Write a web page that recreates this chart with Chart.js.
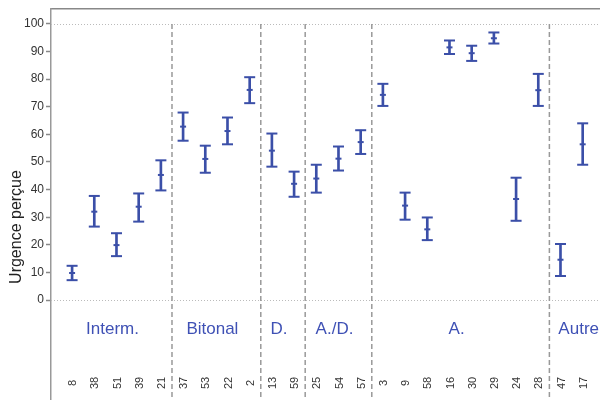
<!DOCTYPE html>
<html>
<head>
<meta charset="utf-8">
<script src="https://cdn.jsdelivr.net/npm/chart.js@4"></script>
<style>
  html, body { margin: 0; padding: 0; background: #fff; }
  #wrap { width: 600px; height: 400px; }
</style>
</head>
<body>
<div id="wrap"><canvas id="urgenceChart" width="600" height="400"></canvas></div>
<script>
// Stimuli (numéros) dans l'ordre de l'axe
const stimuli = ["8", "38", "51", "39", "21", "37", "53", "22", "2", "13", "59",
  "25", "54", "57", "3", "9", "58", "16", "30", "29", "24", "28", "47", "17"];

// Groupes et nombre de stimuli par groupe
const groupes = ["Interm.", "Bitonal", "D.", "A./D.", "A.", "Autre"];
const tailles = [5, 4, 2, 3, 8, 2];

// Moyennes et bornes des intervalles
const moyennes = [9.8, 32.0, 19.9, 33.8, 45.3, 62.8, 51.1, 61.2, 76.1, 54.1, 42.1,
  44.0, 51.2, 57.2, 74.3, 34.2, 25.6, 91.5, 89.4, 94.8, 36.6, 76.0, 14.6, 56.4];
const bornesBas = [7.2, 26.6, 15.9, 28.4, 39.7, 57.7, 46.1, 56.4, 71.3, 48.3, 37.4,
  38.9, 46.9, 52.9, 70.3, 29.1, 21.7, 89.1, 86.6, 92.9, 28.7, 70.3, 8.7, 49.0];
const bornesHaut = [12.4, 37.7, 24.2, 38.6, 50.6, 67.9, 55.9, 66.1, 80.7, 60.3, 46.5,
  49.0, 55.6, 61.5, 78.3, 38.9, 29.9, 94.0, 92.1, 96.9, 44.3, 81.9, 20.3, 64.0];

// Graduations de l'axe Y
const graduations = [0, 10, 20, 30, 40, 50, 60, 70, 80, 90, 100];

const bleu = "#3b4fa8";

// Plugin pour les séparateurs, les libellés et le titre de l'axe
const decor = {
  id: "decor",
  beforeDatasetsDraw(chart) {
    const { ctx, chartArea, scales: { x, y } } = chart;
    ctx.save();
    // lignes pointillées à 0 et 100
    ctx.strokeStyle = "#bbb";
    ctx.lineWidth = 1;
    ctx.setLineDash([1, 2]);
    [0, 100].forEach(v => {
      const py = Math.round(y.getPixelForValue(v)) + 0.5;
      ctx.beginPath();
      ctx.moveTo(chartArea.left, py);
      ctx.lineTo(chartArea.right, py);
      ctx.stroke();
    });
    // séparateurs de groupes
    ctx.strokeStyle = "#999";
    ctx.lineWidth = 1.5;
    ctx.setLineDash([5, 3]);
    let idx = 0;
    tailles.forEach((n, g) => {
      idx += n;
      if (g === tailles.length - 1) return;
      const px = x.getPixelForValue(idx - 0.5);
      ctx.beginPath();
      ctx.moveTo(px, y.getPixelForValue(100));
      ctx.lineTo(px, chartArea.bottom);
      ctx.stroke();
    });
    ctx.setLineDash([]);

    // noms des groupes
    ctx.fillStyle = "#3f51b5";
    ctx.font = "17px 'Liberation Sans', Arial, sans-serif";
    ctx.textAlign = "center";
    ctx.textBaseline = "middle";
    idx = 0;
    tailles.forEach((n, g) => {
      const centre = idx + (g === tailles.length - 1 ? n : n - 1) / 2;
      ctx.fillText(groupes[g], x.getPixelForValue(centre) - 4, 329);
      idx += n;
    });

    // numéros des stimuli (verticaux)
    ctx.fillStyle = "#333";
    ctx.font = "11px 'Liberation Sans', Arial, sans-serif";
    stimuli.forEach((s, i) => {
      ctx.save();
      ctx.translate(x.getPixelForValue(i) + 1, 383);
      ctx.rotate(-Math.PI / 2);
      ctx.fillText(s, 0, 0);
      ctx.restore();
    });

    // titre de l'axe Y
    ctx.fillStyle = "#222";
    ctx.font = "16px 'Liberation Sans', Arial, sans-serif";
    ctx.translate(17, 227);
    ctx.rotate(-Math.PI / 2);
    ctx.fillText("Urgence perçue", 0, 0);
    ctx.restore();
  }
};

const ctx = document.getElementById("urgenceChart").getContext("2d");
new Chart(ctx, {
  type: "scatter",
  data: {
    datasets: [
      {
        type: "bar",
        data: stimuli.map((s, i) => ({ x: i, y: [bornesBas[i], bornesHaut[i]] })),
        backgroundColor: bleu,
        barThickness: 2,
      },
      {
        data: stimuli.map((s, i) => ({ x: i, y: bornesHaut[i] })),
        pointStyle: "line",
        radius: 5.5,
        borderWidth: 2,
        borderColor: bleu,
      },
      {
        data: stimuli.map((s, i) => ({ x: i, y: bornesBas[i] })),
        pointStyle: "line",
        radius: 5.5,
        borderWidth: 2,
        borderColor: bleu,
      },
      {
        data: stimuli.map((s, i) => ({ x: i, y: moyennes[i] })),
        pointStyle: "line",
        radius: 3,
        borderWidth: 2,
        borderColor: bleu,
      },
    ],
  },
  options: {
    responsive: false,
    animation: false,
    events: [],
    layout: {
      autoPadding: false,
      padding: { top: 9, right: 0, bottom: 0, left: 0 },
    },
    plugins: {
      legend: { display: false },
      tooltip: { enabled: false },
    },
    scales: {
      x: {
        type: "linear",
        position: "top",
        offset: false,
        min: -0.95,
        max: 23.78,
        grid: { display: false, offset: false },
        ticks: { display: false },
        border: { color: "#888", width: 1.5 },
        afterFit: (scale) => {
          scale.height = 0;
          scale.paddingLeft = 0;
          scale.paddingRight = 0;
        },
      },
      y: {
        min: -36.2,
        max: 105.4,
        afterBuildTicks: (scale) => {
          scale.ticks = graduations.map(v => ({ value: v }));
        },
        afterFit: (scale) => {
          scale.width = 51;
          scale.paddingTop = 0;
          scale.paddingBottom = 0;
        },
        grid: {
          drawOnChartArea: false,
          drawTicks: true,
          tickLength: 5,
          tickColor: "#888",
          tickWidth: 1.5,
        },
        border: { color: "#999", width: 1.5 },
        ticks: {
          color: "#333",
          padding: 2,
          font: { family: "'Liberation Sans', Arial, sans-serif", size: 12 },
        },
      },
    },
  },
  plugins: [decor],
});
</script>
</body>
</html>
